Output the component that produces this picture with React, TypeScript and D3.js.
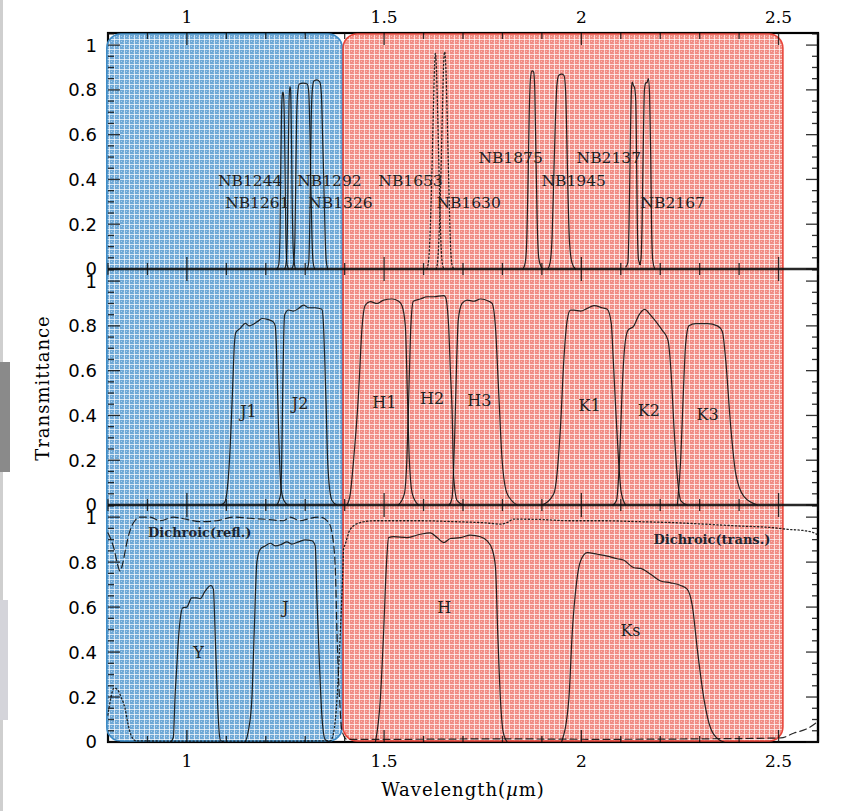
import React from 'react'
import * as d3 from 'd3'

// [wavelength (um), transmittance]
const nb1244 = [[1.228, 0], [1.233, 0.02], [1.236, 0.15], [1.238, 0.45], [1.240, 0.70], [1.242, 0.78], [1.2435, 0.79], [1.245, 0.78], [1.247, 0.68], [1.249, 0.42], [1.251, 0.15], [1.254, 0.02], [1.258, 0]]
const nb1261 = [[1.248, 0], [1.252, 0.03], [1.255, 0.2], [1.257, 0.5], [1.259, 0.75], [1.261, 0.815], [1.263, 0.80], [1.265, 0.6], [1.267, 0.3], [1.270, 0.07], [1.275, 0]]
const nb1292 = [[1.266, 0], [1.271, 0.03], [1.274, 0.15], [1.276, 0.4], [1.278, 0.65], [1.281, 0.79], [1.285, 0.826], [1.295, 0.83], [1.305, 0.826], [1.309, 0.79], [1.312, 0.6], [1.314, 0.4], [1.317, 0.15], [1.320, 0.03], [1.324, 0]]
const nb1326 = [[1.305, 0], [1.309, 0.03], [1.311, 0.15], [1.313, 0.4], [1.315, 0.65], [1.318, 0.8], [1.322, 0.84], [1.330, 0.845], [1.337, 0.835], [1.341, 0.78], [1.344, 0.6], [1.347, 0.4], [1.350, 0.18], [1.353, 0.04], [1.357, 0]]
const nb1630 = [[1.608, 0], [1.613, 0.04], [1.617, 0.18], [1.621, 0.42], [1.625, 0.72], [1.628, 0.91], [1.630, 0.963], [1.632, 0.92], [1.636, 0.68], [1.640, 0.38], [1.644, 0.12], [1.648, 0.02], [1.652, 0]]
const nb1653 = [[1.632, 0], [1.636, 0.04], [1.640, 0.18], [1.644, 0.42], [1.648, 0.72], [1.651, 0.92], [1.6535, 0.97], [1.656, 0.92], [1.660, 0.68], [1.664, 0.38], [1.668, 0.12], [1.672, 0.02], [1.677, 0]]
const nb1875 = [[1.852, 0], [1.858, 0.03], [1.862, 0.15], [1.865, 0.4], [1.868, 0.7], [1.871, 0.85], [1.875, 0.885], [1.879, 0.88], [1.882, 0.8], [1.885, 0.5], [1.888, 0.22], [1.892, 0.05], [1.898, 0.01], [1.902, 0]]
const nb1945 = [[1.915, 0], [1.921, 0.03], [1.926, 0.15], [1.930, 0.4], [1.934, 0.65], [1.938, 0.82], [1.943, 0.865], [1.950, 0.87], [1.956, 0.865], [1.960, 0.8], [1.963, 0.6], [1.966, 0.35], [1.970, 0.12], [1.976, 0.03], [1.985, 0]]
const nb2137 = [[2.113, 0.01], [2.118, 0.03], [2.121, 0.2], [2.124, 0.55], [2.127, 0.8], [2.129, 0.835], [2.132, 0.82], [2.135, 0.81], [2.138, 0.75], [2.140, 0.5], [2.142, 0.2], [2.145, 0.04], [2.150, 0.02]]
const nb2167 = [[2.147, 0.02], [2.151, 0.04], [2.154, 0.2], [2.157, 0.55], [2.160, 0.8], [2.163, 0.83], [2.167, 0.835], [2.170, 0.85], [2.173, 0.78], [2.176, 0.5], [2.178, 0.2], [2.181, 0.04], [2.186, 0]]

const j1 = [[1.085, 0], [1.095, 0.01], [1.101, 0.05], [1.105, 0.12], [1.108, 0.2], [1.1155, 0.5], [1.1205, 0.72], [1.124, 0.77], [1.135, 0.789], [1.148, 0.811], [1.158, 0.800], [1.166, 0.805], [1.178, 0.818], [1.191, 0.833], [1.204, 0.829], [1.219, 0.818], [1.224, 0.80], [1.227, 0.70], [1.230, 0.5], [1.233, 0.3], [1.236, 0.15], [1.240, 0.06], [1.246, 0.02], [1.256, 0]]
const j2 = [[1.228, 0], [1.2378, 0.05], [1.2404, 0.2], [1.2429, 0.5], [1.2454, 0.75], [1.248, 0.85], [1.2576, 0.871], [1.2703, 0.866], [1.283, 0.878], [1.2957, 0.893], [1.3084, 0.881], [1.3254, 0.881], [1.3424, 0.874], [1.3464, 0.80], [1.3495, 0.65], [1.3533, 0.424], [1.3558, 0.25], [1.3591, 0.126], [1.3678, 0.02], [1.3805, 0]]
const h1 = [[1.4058, 0], [1.4142, 0.05], [1.4226, 0.2], [1.4353, 0.5], [1.4439, 0.79], [1.4523, 0.893], [1.465, 0.908], [1.482, 0.90], [1.4987, 0.915], [1.52, 0.92], [1.5368, 0.91], [1.5454, 0.89], [1.5538, 0.8], [1.5589, 0.5], [1.564, 0.2], [1.5716, 0.05], [1.5868, 0]]
const h2 = [[1.536, 0], [1.5513, 0.05], [1.5576, 0.2], [1.5627, 0.5], [1.5678, 0.8], [1.5741, 0.91], [1.5919, 0.92], [1.6089, 0.93], [1.6256, 0.93], [1.651, 0.935], [1.6553, 0.93], [1.6637, 0.796], [1.668, 0.6], [1.6723, 0.424], [1.6764, 0.126], [1.685, 0.02], [1.7018, 0]]
const h3 = [[1.665, 0], [1.672, 0.03], [1.676, 0.15], [1.6795, 0.35], [1.684, 0.647], [1.688, 0.826], [1.6976, 0.9], [1.7104, 0.915], [1.7272, 0.91], [1.7442, 0.92], [1.7652, 0.91], [1.7738, 0.90], [1.7822, 0.796], [1.7906, 0.5], [1.7992, 0.2], [1.812, 0.05], [1.8373, 0]]
const k1 = [[1.9008, 0], [1.9302, 0.05], [1.9472, 0.35], [1.9556, 0.647], [1.9642, 0.826], [1.9726, 0.87], [1.981, 0.87], [1.998, 0.866], [2.015, 0.878], [2.0317, 0.89], [2.053, 0.881], [2.0657, 0.874], [2.0759, 0.811], [2.081, 0.647], [2.088, 0.4], [2.0944, 0.2], [2.1008, 0.06], [2.1122, 0]]
const k2 = [[2.080, 0], [2.0891, 0.02], [2.0967, 0.2], [2.1031, 0.5], [2.1096, 0.7], [2.118, 0.78], [2.1333, 0.80], [2.1459, 0.848], [2.1604, 0.874], [2.1756, 0.848], [2.1926, 0.811], [2.2053, 0.78], [2.2195, 0.737], [2.2282, 0.573], [2.2348, 0.35], [2.2434, 0.126], [2.2518, 0.02], [2.2688, 0]]
const k3 = [[2.2434, 0], [2.2518, 0.2], [2.2586, 0.5], [2.2645, 0.72], [2.2728, 0.80], [2.2898, 0.81], [2.3195, 0.81], [2.3449, 0.80], [2.3576, 0.774], [2.366, 0.647], [2.3787, 0.35], [2.3914, 0.14], [2.4125, 0.037], [2.4464, 0]]

const yBand = [[0.958, 0], [0.9657, 0.02], [0.9699, 0.2], [0.9744, 0.336], [0.9787, 0.46], [0.983, 0.545], [0.9896, 0.597], [0.9997, 0.60], [1.0124, 0.641], [1.0251, 0.641], [1.0335, 0.637], [1.0462, 0.671], [1.0607, 0.696], [1.0673, 0.679], [1.0716, 0.485], [1.0774, 0.1875], [1.0843, 0.01], [1.093, 0]]
const jBand = [[1.148, 0], [1.156, 0.05], [1.1647, 0.19], [1.1706, 0.485], [1.1774, 0.80], [1.1858, 0.857], [1.1985, 0.872], [1.2112, 0.884], [1.2239, 0.872], [1.2409, 0.88], [1.2536, 0.89], [1.2662, 0.88], [1.283, 0.89], [1.30, 0.899], [1.317, 0.895], [1.3254, 0.872], [1.3297, 0.634], [1.3363, 0.336], [1.3424, 0.113], [1.3508, 0.01], [1.3635, 0]]
const hBand = [[1.478, 0], [1.4904, 0.19], [1.4987, 0.485], [1.5056, 0.78], [1.5114, 0.909], [1.5241, 0.913], [1.5581, 0.909], [1.5919, 0.924], [1.6173, 0.93], [1.6343, 0.909], [1.6511, 0.887], [1.668, 0.905], [1.6934, 0.909], [1.7188, 0.92], [1.7442, 0.913], [1.7612, 0.894], [1.7739, 0.857], [1.7822, 0.78], [1.7881, 0.485], [1.7949, 0.19], [1.8018, 0.045], [1.812, 0]]
const ksBand = [[1.95, 0], [1.9683, 0.19], [1.9769, 0.485], [1.9878, 0.708], [1.998, 0.805], [2.015, 0.842], [2.0404, 0.835], [2.0657, 0.827], [2.0911, 0.815], [2.1079, 0.808], [2.1333, 0.775], [2.1503, 0.772], [2.1756, 0.746], [2.201, 0.716], [2.2264, 0.708], [2.2518, 0.696], [2.2688, 0.679], [2.2815, 0.604], [2.2942, 0.41], [2.311, 0.19], [2.328, 0.06], [2.349, 0.01], [2.3617, 0]]

const dichroicRefl = [[0.8, 0.93], [0.8076, 0.90], [0.8152, 0.86], [0.8228, 0.80], [0.8305, 0.76], [0.8381, 0.80], [0.8457, 0.87], [0.8558, 0.94], [0.8685, 0.985], [0.8812, 1.0], [0.9066, 1.0], [0.932, 0.984], [0.9657, 1.0], [0.9997, 0.99], [1.0335, 0.98], [1.0759, 0.984], [1.118, 1.0], [1.1604, 0.995], [1.2028, 0.99], [1.2449, 0.984], [1.2619, 1.0], [1.2873, 0.984], [1.3127, 0.995], [1.3381, 1.0], [1.3591, 0.977], [1.3678, 0.93], [1.3761, 0.78], [1.3805, 0.485], [1.3871, 0.19], [1.3931, 0.05], [1.4058, 0.012], [1.541, 0.012], [1.795, 0.014], [2.0487, 0.012], [2.3025, 0.014], [2.5056, 0.018], [2.5394, 0.04], [2.5733, 0.06], [2.5987, 0.09]]
const dichroicTrans = [[0.8, 0.12], [0.8076, 0.2], [0.8152, 0.24], [0.8254, 0.23], [0.833, 0.2], [0.8431, 0.15], [0.8508, 0.08], [0.8584, 0.03], [0.8711, 0.005], [1.0, 0.004], [1.2, 0.004], [1.3635, 0.005], [1.3718, 0.04], [1.3805, 0.19], [1.3888, 0.48], [1.3957, 0.78], [1.3972, 0.857], [1.4015, 0.88], [1.4142, 0.946], [1.4396, 0.976], [1.4734, 0.984], [1.5241, 0.984], [1.5919, 0.984], [1.6764, 0.98], [1.7612, 0.974], [1.795, 0.969], [1.812, 0.976], [1.8287, 0.991], [1.8881, 0.99], [1.9726, 0.984], [2.0571, 0.984], [2.1419, 0.98], [2.2264, 0.976], [2.311, 0.969], [2.3957, 0.961], [2.4802, 0.954], [2.5226, 0.946], [2.5647, 0.94], [2.5901, 0.93], [2.6, 0.92]]

const topCurves = [
  { name: 'NB1244', data: nb1244, dash: 'solid' }, { name: 'NB1261', data: nb1261, dash: 'solid' },
  { name: 'NB1292', data: nb1292, dash: 'solid' }, { name: 'NB1326', data: nb1326, dash: 'solid' },
  { name: 'NB1630', data: nb1630, dash: 'dot' }, { name: 'NB1653', data: nb1653, dash: 'dot' },
  { name: 'NB1875', data: nb1875, dash: 'solid' }, { name: 'NB1945', data: nb1945, dash: 'solid' },
  { name: 'NB2137', data: nb2137, dash: 'solid' }, { name: 'NB2167', data: nb2167, dash: 'solid' }
]
const midCurves = [
  { name: 'J1', data: j1, dash: 'solid' }, { name: 'J2', data: j2, dash: 'solid' },
  { name: 'H1', data: h1, dash: 'solid' }, { name: 'H2', data: h2, dash: 'solid' }, { name: 'H3', data: h3, dash: 'solid' },
  { name: 'K1', data: k1, dash: 'solid' }, { name: 'K2', data: k2, dash: 'solid' }, { name: 'K3', data: k3, dash: 'solid' }
]
const botCurves = [
  { name: 'Y', data: yBand, dash: 'solid' }, { name: 'J', data: jBand, dash: 'solid' },
  { name: 'H', data: hBand, dash: 'solid' }, { name: 'Ks', data: ksBand, dash: 'solid' },
  { name: 'Dichroic(refl.)', data: dichroicRefl, dash: 'dash' },
  { name: 'Dichroic(trans.)', data: dichroicTrans, dash: 'dot' }
]

// label anchors: [text, wavelength of left edge, transmittance of centre]
const topLabels = [['NB1244', 1.079, 0.397], ['NB1292', 1.2797, 0.397], ['NB1653', 1.4853, 0.397], ['NB1261', 1.097, 0.299], ['NB1326', 1.3076, 0.299], ['NB1630', 1.6325, 0.299], ['NB1875', 1.739, 0.5], ['NB1945', 1.899, 0.397], ['NB2137', 1.988, 0.5], ['NB2167', 2.15, 0.299]]
const midLabels = [['J1', 1.135, 0.42], ['J2', 1.266, 0.455], ['H1', 1.470, 0.46], ['H2', 1.591, 0.475], ['H3', 1.711, 0.469], ['K1', 1.993, 0.446], ['K2', 2.143, 0.424], ['K3', 2.292, 0.404]]
const botLabels = [['Y', 1.016, 0.397], ['J', 1.242, 0.598], ['H', 1.635, 0.598], ['Ks', 2.099, 0.496]]
const dichroicLabels = [['Dichroic(refl.)', 0.9015, 0.933], ['Dichroic(trans.)', 2.183, 0.902]]

const armBoxes = [
  { arm: 'blue', from: 0.797, to: 1.394 },
  { arm: 'red', from: 1.396, to: 2.511 }
]

const xDomain = [0.8, 2.6]
const xMajor = [1, 1.5, 2, 2.5]
const yMajor = [0, 0.2, 0.4, 0.6, 0.8, 1]

const L = 108
const R = 818
const T0 = 33
const B0 = 742
const panelEdges = [33, 269, 505, 742]

export default function App () {
  const x = d3.scaleLinear().domain(xDomain).range([L, R])
  const panels = [0, 1, 2].map(i => d3.scaleLinear().domain([0, 1.054]).range([panelEdges[i + 1], panelEdges[i]]))
  const curveSets = [topCurves, midCurves, botCurves]
  const labelSets = [topLabels, midLabels, botLabels]
  const xMinor = x.ticks(18)

  const dashOf = (d) => d === 'dash' ? '7,4' : d === 'dot' ? '1.3,2.4' : null

  return (
    <svg width={843} height={811} style={{ position: 'absolute', left: 0, top: 0, background: '#fff' }}>
      <defs>
        <pattern id='blueGrid' width='5' height='5' patternUnits='userSpaceOnUse'>
          <rect width='5' height='5' fill='#6ea8d6' />
          <rect x='4' width='1' height='5' fill='#fff' opacity='0.7' />
          <rect y='4' width='5' height='1' fill='#fff' opacity='0.7' />
          <rect x='1' y='1' width='1' height='1' fill='#fff' opacity='0.45' />
          <rect x='3' y='2' width='1' height='1' fill='#fff' opacity='0.3' />
        </pattern>
        <pattern id='redGrid' width='5' height='5' patternUnits='userSpaceOnUse'>
          <rect width='5' height='5' fill='#f08d84' />
          <rect x='4' width='1' height='5' fill='#fff' opacity='0.7' />
          <rect y='4' width='5' height='1' fill='#fff' opacity='0.7' />
          <rect x='1' y='1' width='1' height='1' fill='#fff' opacity='0.45' />
          <rect x='3' y='2' width='1' height='1' fill='#fff' opacity='0.3' />
        </pattern>
      </defs>

      {/* screenshot edge */}
      <rect x={0} y={0} width={3} height={811} fill='#cfcfcf' />
      <rect x={0} y={362} width={10} height={110} fill='#8a8a8a' />
      <rect x={0} y={600} width={8} height={120} fill='#d4d4da' />

      <rect x={L} y={T0} width={R - L} height={B0 - T0} fill='none' stroke='#000' strokeWidth={2.2} />

      {armBoxes.map(b => (
        <rect key={b.arm} x={x(b.from)} y={T0 + 1} width={x(b.to) - x(b.from)} height={B0 - T0 - 2} rx={14} ry={14}
          fill={b.arm === 'blue' ? 'url(#blueGrid)' : 'url(#redGrid)'}
          stroke={b.arm === 'blue' ? '#3d8ac4' : '#e8463b'} strokeWidth={1.6} />
      ))}

      {/* panel separators */}
      {[269, 505].map(v => <line key={v} x1={L} x2={R} y1={v} y2={v} stroke='#111' strokeOpacity={0.9} strokeWidth={2.4} />)}
      <line x1={R} x2={R} y1={T0} y2={B0} stroke='#000' strokeWidth={2.2} />

      {/* ticks */}
      <g stroke='#111' strokeOpacity={0.85} strokeWidth={1.3}>
        {panels.map((y, i) => {
          const top = panelEdges[i]
          const bot = panelEdges[i + 1]
          return (
            <g key={i}>
              {xMinor.map(v => {
                const len = xMajor.some(m => Math.abs(m - v) < 1e-6) ? 12 : 6
                return (
                  <g key={v}>
                    <line x1={x(v)} x2={x(v)} y1={top} y2={top + len} />
                    <line x1={x(v)} x2={x(v)} y1={bot} y2={bot - len} />
                  </g>
                )
              })}
              {y.ticks(20).map(v => {
                const len = yMajor.some(m => Math.abs(m - v) < 1e-6) ? 12 : 6
                return (
                  <g key={v}>
                    <line x1={L} x2={L + len} y1={y(v)} y2={y(v)} />
                    <line x1={R} x2={R - len} y1={y(v)} y2={y(v)} />
                  </g>
                )
              })}
            </g>
          )
        })}
      </g>

      {/* curves */}
      {curveSets.map((set, i) => {
        const y = panels[i]
        const line = d3.line().x(d => x(d[0])).y(d => y(d[1])).curve(d3.curveMonotoneX)
        return set.map(c => (
          <path key={c.name} d={line(c.data)} fill='none' stroke='#111' strokeOpacity={0.9}
            strokeWidth={c.dash === 'dot' ? 1.3 : 1.2} strokeDasharray={dashOf(c.dash)} strokeLinecap='round' />
        ))
      })}

      {/* band labels */}
      {labelSets.map((set, i) => set.map(([t, w, v]) => (
        <text key={t} x={x(w)} y={panels[i](v)} dy='0.36em' fontFamily='DejaVu Serif' fontSize={i === 0 ? 15.5 : 16} fill='#222'>{t}</text>
      )))}
      {dichroicLabels.map(([t, w, v]) => (
        <text key={t} x={x(w)} y={panels[2](v)} dy='0.36em' fontFamily='DejaVu Serif' fontWeight='bold' fontSize={13} fill='#1e2630'>{t}</text>
      ))}

      {/* y tick labels */}
      {panels.map((y, i) => yMajor.map(v => (
        <text key={i + '-' + v} x={L - 11} y={y(v)} dy='0.36em' textAnchor='end' fontFamily='DejaVu Sans' fontSize={18} fill='#000'>{v}</text>
      )))}

      {/* x tick labels */}
      {xMajor.map(v => (
        <g key={v}>
          <text x={x(v)} y={17} dy='0.36em' textAnchor='middle' fontFamily='DejaVu Serif' fontSize={17} fill='#000'>{v}</text>
          <text x={x(v)} y={761} dy='0.36em' textAnchor='middle' fontFamily='DejaVu Serif' fontSize={17} fill='#000'>{v}</text>
        </g>
      ))}

      <text x={(L + R) / 2} y={790} dy='0.36em' textAnchor='middle' fontFamily='DejaVu Serif' fontSize={18} letterSpacing={1} fill='#000'>
        Wavelength(<tspan fontStyle='italic'>µ</tspan>m)
      </text>
      <text transform={`translate(43,388) rotate(-90)`} dy='0.36em' textAnchor='middle' fontFamily='DejaVu Serif' fontSize={18} letterSpacing={1} fill='#000'>Transmittance</text>
    </svg>
  )
}
